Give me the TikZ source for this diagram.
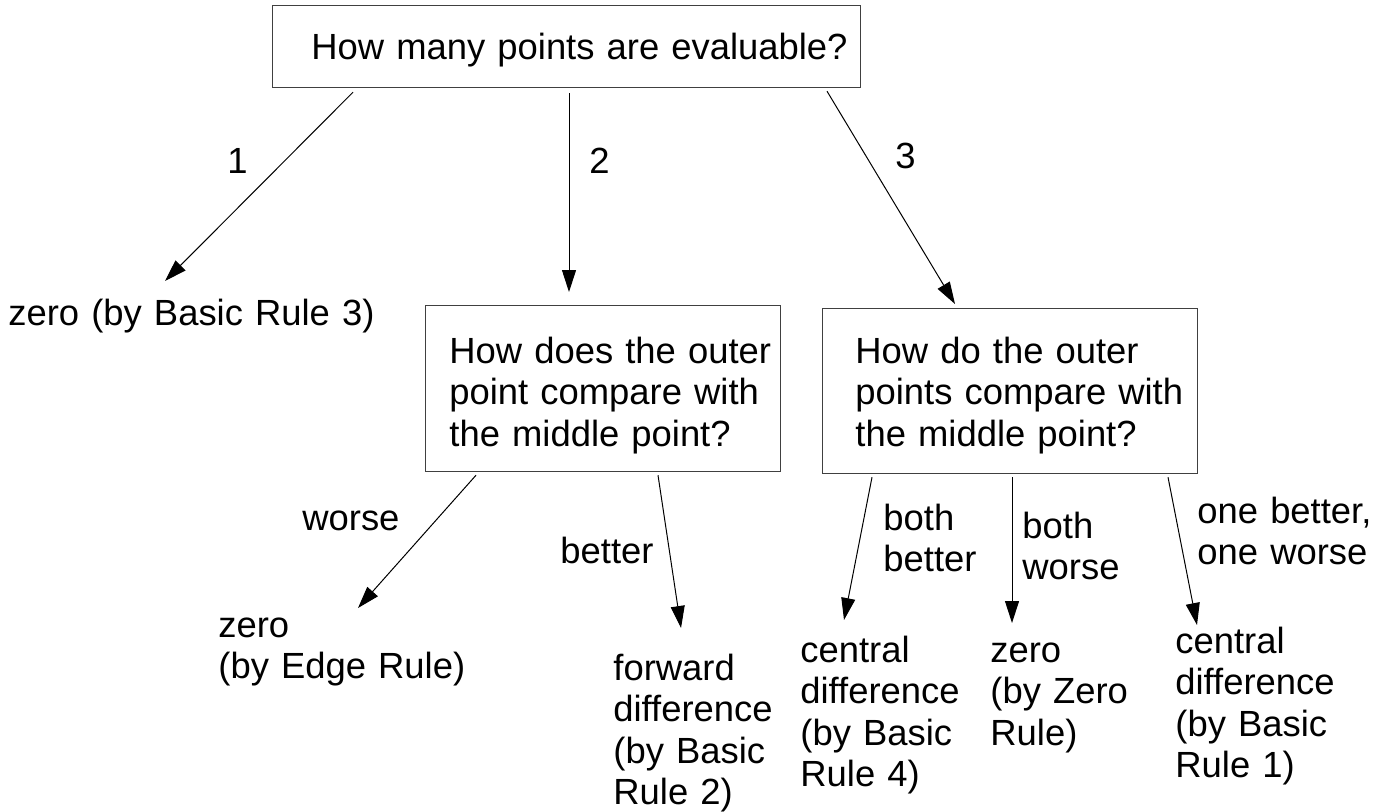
\documentclass[tikz,border=0pt]{standalone}
\usepackage{fontspec}
\setmainfont{Liberation Sans}
\usetikzlibrary{arrows.meta}

\begin{document}
\begin{tikzpicture}[x=0.5pt, y=-0.5pt, >={Triangle[length=11pt,width=7pt]},
		every node/.style={font=\fontsize{18.2pt}{20.8pt}\selectfont},
		qbox/.style={draw=black!75, line width=0.6pt, anchor=north west, inner sep=0pt},
		txt/.style={anchor=base west, inner sep=0pt, align=left, text width=280pt},
		link/.style={->, line width=0.5pt}]
		\useasboundingbox (0,0) rectangle (1385,811);
		
		% questions
		\node[qbox, minimum width=294pt, minimum height=41pt] (qcount) at (272,5) {};
		\node[txt] (qcounttext) at ([shift={(39,54)}]qcount.north west) {How many points are evaluable?};
		\node[qbox, minimum width=177.5pt, minimum height=83pt] (qouter) at (425,305) {};
		\node[txt] (qoutertext) at ([shift={(24,58)}]qouter.north west) {How does the outer\\point compare with\\the middle point?};
		\node[qbox, minimum width=187.5pt, minimum height=82.5pt] (qouters) at (822,308) {};
		\node[txt] (qouterstext) at ([shift={(33,55)}]qouters.north west) {How do the outer\\points compare with\\the middle point?};
		
		% answers
		\node[txt] (rule3) at (8,325) {zero (by Basic Rule 3)};
		\node[txt] (edgerule) at (218,637) {zero\\(by Edge Rule)};
		\node[txt] (forward) at (613,680) {forward\\difference\\(by Basic\\Rule 2)};
		\node[txt] (central4) at (800,662) {central\\difference\\(by Basic\\Rule 4)};
		\node[txt] (zerorule) at (990,662) {zero\\(by Zero\\Rule)};
		\node[txt] (central1) at (1175,653) {central\\difference\\(by Basic\\Rule 1)};
		
		% branch labels
		\node[txt] (lone) at (227,173) {1};
		\node[txt] (ltwo) at (589,173) {2};
		\node[txt] (lthree) at (895,168) {3};
		\node[txt] (lworse) at (302,530) {worse};
		\node[txt] (lbetter) at (560,563) {better};
		\node[txt] (lbothb) at (883,530) {both\\better};
		\node[txt] (lbothw) at (1022,538) {both\\worse};
		\node[txt] (lmixed) at (1197,523) {one better,\\one worse};
		
		\draw[link] ([shift={(81,4)}]qcount.south west) -- ([shift={(157,-44)}]rule3.base west);
		\draw[link] ([shift={(297,5)}]qcount.south west) -- ([shift={(144,-13)}]qouter.north west);
		\draw[link] ([shift={(555,3)}]qcount.south west) -- ([shift={(133,-4)}]qouters.north west);
		\draw[link] ([shift={(51,3)}]qouter.south west) -- ([shift={(140,-29)}]edgerule.base west);
		\draw[link] ([shift={(233,3)}]qouter.south west) -- ([shift={(68,-52)}]forward.base west);
		\draw[link] ([shift={(50,3)}]qouters.south west) -- ([shift={(44,-42)}]central4.base west);
		\draw[link] ([shift={(190,3)}]qouters.south west) -- ([shift={(22,-39)}]zerorule.base west);
		\draw[link] ([shift={(346,3)}]qouters.south west) -- ([shift={(22,-28)}]central1.base west);
	\end{tikzpicture}
\end{document}
